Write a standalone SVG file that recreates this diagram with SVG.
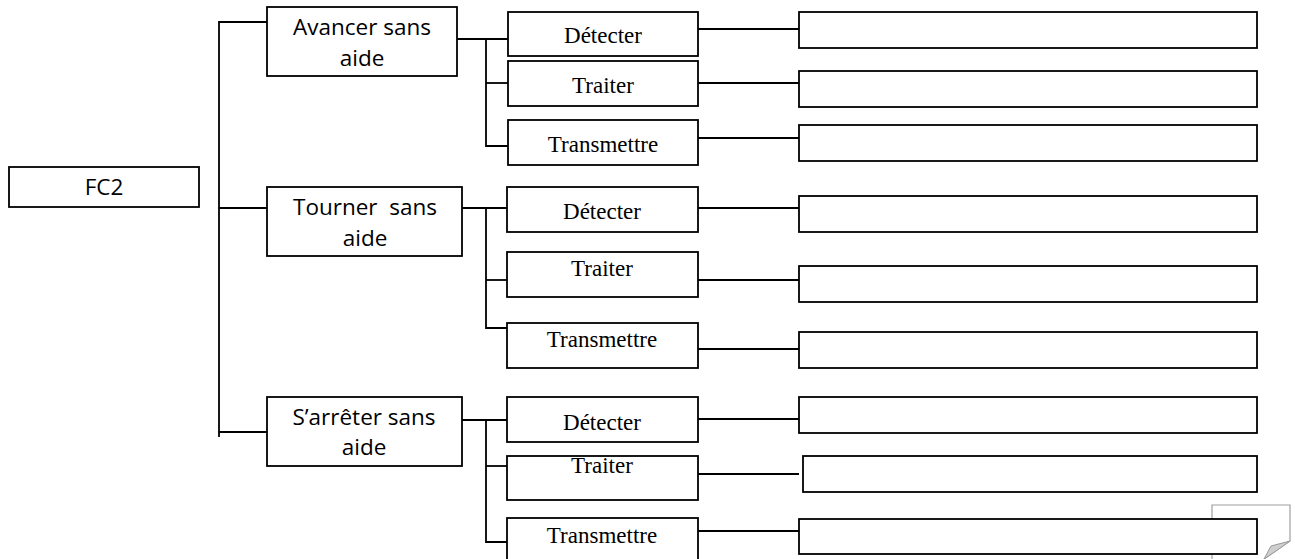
<svg xmlns="http://www.w3.org/2000/svg" width="1295" height="559" viewBox="0 0 1295 559">
<style>
.box{fill:#fff;stroke:#000;stroke-width:1.8}
.ln{fill:none;stroke:#000;stroke-width:1.8}
.sans{font-family:"Open Sans","Liberation Sans",sans-serif;font-size:22.5px;fill:#000;text-anchor:middle}
.serif{font-family:"Liberation Serif","Times New Roman",serif;font-size:23px;fill:#000;text-anchor:middle}
</style>
<rect width="1295" height="559" fill="#fff"/>
<g id="page-icon">
<path d="M1212,559 L1212,505 L1290,505 L1290,541 L1264,559" fill="#fff" stroke="#a0a0a0" stroke-width="1.2"/>
<polygon points="1290,541 1271,546 1264,559 1276,551" fill="#cfcfcf" stroke="#999" stroke-width="1"/>
</g>
<g id="connectors">
<polyline class="ln" points="272,22 219,22 219,437"/>
<line class="ln" x1="219" y1="208" x2="267" y2="208"/>
<line class="ln" x1="219" y1="432" x2="267" y2="432"/>
<line class="ln" x1="457" y1="39" x2="508" y2="39"/>
<polyline class="ln" points="486,39 486,146 508,146"/>
<line class="ln" x1="486" y1="83" x2="508" y2="83"/>
<line class="ln" x1="462" y1="208" x2="507" y2="208"/>
<polyline class="ln" points="486,208 486,328 507,328"/>
<line class="ln" x1="486" y1="280" x2="507" y2="280"/>
<line class="ln" x1="462" y1="420" x2="507" y2="420"/>
<polyline class="ln" points="486,420 486,542 507,542"/>
<line class="ln" x1="486" y1="466" x2="507" y2="466"/>
<line class="ln" x1="698" y1="29" x2="799" y2="29"/>
<line class="ln" x1="698" y1="83" x2="799" y2="83"/>
<line class="ln" x1="698" y1="138" x2="801" y2="138"/>
<line class="ln" x1="698" y1="208" x2="799" y2="208"/>
<line class="ln" x1="698" y1="280" x2="799" y2="280"/>
<line class="ln" x1="698" y1="349" x2="799" y2="349"/>
<line class="ln" x1="698" y1="419" x2="799" y2="419"/>
<line class="ln" x1="698" y1="474" x2="799" y2="474"/>
<line class="ln" x1="698" y1="531" x2="799" y2="531"/>
</g>
<g id="fc2"><rect class="box" x="9" y="167" width="190" height="40"/><text class="sans" x="104" y="195">FC2</text></g>
<g id="avancer"><rect class="box" x="267" y="7" width="190" height="69"/><text class="sans" x="362" y="35">Avancer sans</text><text class="sans" x="362" y="66">aide</text></g>
<g id="tourner"><rect class="box" x="267" y="187" width="195" height="69"/><text class="sans" x="365" y="215" style="white-space:pre">Tourner  sans</text><text class="sans" x="365" y="246">aide</text></g>
<g id="arreter"><rect class="box" x="267" y="397" width="195" height="69"/><text class="sans" x="364" y="425">S’arrêter sans</text><text class="sans" x="364" y="455">aide</text></g>
<g id="a-detecter"><rect class="box" x="508" y="12" width="190" height="44"/><text class="serif" x="603" y="43">Détecter</text></g>
<g id="a-traiter"><rect class="box" x="508" y="61" width="190" height="45"/><text class="serif" x="603" y="93">Traiter</text></g>
<g id="a-transmettre"><rect class="box" x="508" y="120" width="190" height="45"/><text class="serif" x="603" y="152">Transmettre</text></g>
<g id="t-detecter"><rect class="box" x="507" y="187" width="191" height="45"/><text class="serif" x="602" y="219">Détecter</text></g>
<g id="t-traiter"><rect class="box" x="507" y="252" width="191" height="45"/><text class="serif" x="602" y="276">Traiter</text></g>
<g id="t-transmettre"><rect class="box" x="507" y="323" width="191" height="45"/><text class="serif" x="602" y="347">Transmettre</text></g>
<g id="s-detecter"><rect class="box" x="507" y="397" width="191" height="45"/><text class="serif" x="602" y="430">Détecter</text></g>
<g id="s-traiter"><rect class="box" x="507" y="456" width="191" height="44"/><text class="serif" x="602" y="473">Traiter</text></g>
<g id="s-transmettre"><rect class="box" x="507" y="518" width="191" height="50"/><text class="serif" x="602" y="543">Transmettre</text></g>
<g id="r1"><rect class="box" x="799" y="12" width="458" height="36"/></g>
<g id="r2"><rect class="box" x="799" y="71" width="458" height="36"/></g>
<g id="r3"><rect class="box" x="799" y="125" width="458" height="36"/></g>
<g id="r4"><rect class="box" x="799" y="196" width="458" height="36"/></g>
<g id="r5"><rect class="box" x="799" y="266" width="458" height="36"/></g>
<g id="r6"><rect class="box" x="799" y="332" width="458" height="36"/></g>
<g id="r7"><rect class="box" x="799" y="397" width="458" height="36"/></g>
<g id="r8"><rect class="box" x="803" y="456" width="454" height="36"/></g>
<g id="r9"><rect class="box" x="799" y="519" width="458" height="35"/></g>
</svg>
